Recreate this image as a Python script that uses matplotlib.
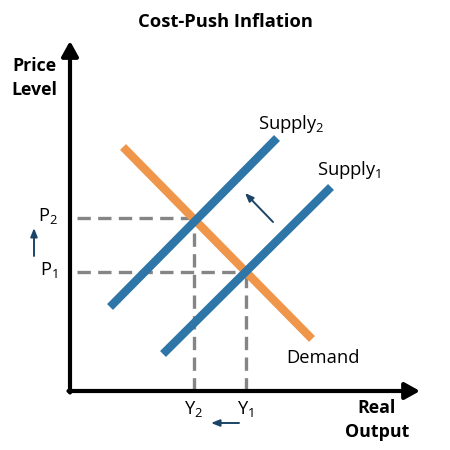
import matplotlib
matplotlib.use('Agg')
import matplotlib.pyplot as plt

plt.rcParams['font.family'] = ['Open Sans', 'DejaVu Sans']
plt.rcParams['mathtext.default'] = 'regular'

# curve end points (x = output, y = price level)
demand_x = [53, 242]
demand_y = [244, 52]
supply1_x = [93, 261]
supply1_y = [37, 204]
supply2_x = [40, 207]
supply2_y = [84, 253]

# equilibrium levels
price_levels = [119, 173]   # P1, P2
output_levels = [176, 124]  # Y1, Y2
price_labels = ['P$_1$', 'P$_2$']
output_labels = ['Y$_1$', 'Y$_2$']

blue = '#2e75a8'
orange = '#f0964a'
navy = '#1b4466'
grey = '#858585'

fig = plt.figure(figsize=(4.5, 4.5), dpi=100)
ax = fig.add_axes([0, 0, 1, 1])
ax.set_xlim(-70, 380)
ax.set_ylim(-59, 391)
ax.axis('off')

# dashed guides
dash = dict(color=grey, lw=2.4, dashes=(4, 2.2), zorder=1)
for p, q in zip(price_levels, output_levels):
    ax.plot([7, q], [p, p], **dash)
    ax.plot([q, q], [0, p], **dash)

# curves
ax.plot(demand_x, demand_y, color=orange, lw=6, solid_capstyle='butt', zorder=2)
ax.plot(supply1_x, supply1_y, color=blue, lw=6, solid_capstyle='butt', zorder=3)
ax.plot(supply2_x, supply2_y, color=blue, lw=6, solid_capstyle='butt', zorder=3)

# axes with arrows
axis_arrow = dict(arrowstyle='-|>,head_length=0.9,head_width=0.5', color='black',
                  lw=3, shrinkA=0, shrinkB=0)
ax.annotate('', xy=(0, 350), xytext=(0, -1.5), arrowprops=axis_arrow, zorder=4)
ax.annotate('', xy=(350, 0), xytext=(-1.5, 0), arrowprops=axis_arrow, zorder=4)

# shift arrows
small = dict(arrowstyle='-|>,head_length=0.5,head_width=0.2', color=navy, lw=1.4,
             shrinkA=0, shrinkB=0)
ax.annotate('', xy=(175, 198), xytext=(203, 169), arrowprops=small)
ax.annotate('', xy=(-36, 163), xytext=(-36, 135), arrowprops=small)
ax.annotate('', xy=(141, -32), xytext=(169, -32), arrowprops=small)

# labels
fs = 13.2
ax.text(155, 391 - 22, 'Cost-Push Inflation', ha='center', va='center',
        fontsize=13.2, fontweight='bold')
ax.text(-36, 313, 'Price\nLevel', ha='center', va='center', fontsize=12.8,
        fontweight='bold', linespacing=1.45)
ax.text(307, -29, 'Real\nOutput', ha='center', va='center', fontsize=12.8,
        fontweight='bold', linespacing=1.45)
ax.text(188, 267, 'Supply$_2$', ha='left', va='center', fontsize=fs)
ax.text(247, 221, 'Supply$_1$', ha='left', va='center', fontsize=fs)
ax.text(216, 33, 'Demand', ha='left', va='center', fontsize=fs)
for p, lab in zip(price_levels, price_labels):
    ax.text(-12, p + 2, lab, ha='right', va='center', fontsize=fs)
for q, lab in zip(output_levels, output_labels):
    ax.text(q, -18, lab, ha='center', va='center', fontsize=fs)

fig.savefig('out.png', dpi=100)
